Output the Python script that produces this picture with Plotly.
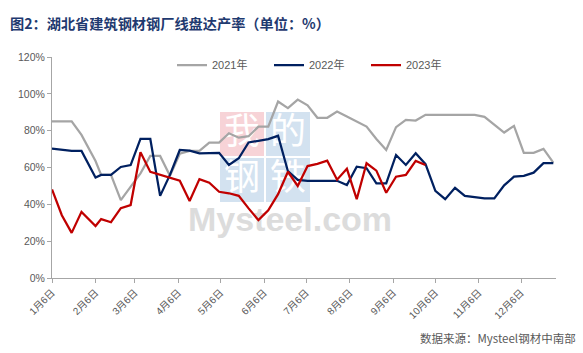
import plotly.graph_objects as go

dates = ["2023-01-06","2023-01-13","2023-01-20","2023-01-27","2023-02-06","2023-02-10","2023-02-17","2023-02-24",
         "2023-03-03","2023-03-10","2023-03-17","2023-03-24","2023-03-31","2023-04-07","2023-04-14","2023-04-21",
         "2023-04-28","2023-05-05","2023-05-12","2023-05-19","2023-05-26","2023-06-02","2023-06-09","2023-06-16",
         "2023-06-23","2023-06-30","2023-07-07","2023-07-14","2023-07-21","2023-07-28","2023-08-04","2023-08-11",
         "2023-08-18","2023-08-25","2023-09-01","2023-09-08","2023-09-15","2023-09-22","2023-09-29","2023-10-06",
         "2023-10-13","2023-10-20","2023-10-27","2023-11-03","2023-11-10","2023-11-17","2023-11-24","2023-12-01",
         "2023-12-08","2023-12-15","2023-12-22","2023-12-29"]

y2021 = [85, 85, 85, 77.7, 63.5, 56, 56, 42.3, 49.5, 56.8, 66.3, 66.3, 55.5, 67.5, 69, 69, 73.5, 73.5, 78.6, 76.2,
         77, 82.2, 82.2, 95.8, 92.2, 96.9, 93.8, 87, 87, 90.4, 87.7, 85, 82.2, 75.5, 69.5, 81.9, 85.9, 85.5, 88.6,
         88.6, 88.6, 88.6, 88.6, 88.6, 87.5, 83.4, 79, 82.6, 68, 68, 70.1, 62.6]
y2022 = [70.2, 69.6, 69, 69, 54.5, 56, 56, 60.3, 61.3, 75.5, 75.5, 44.6, 56, 69.5, 69.2, 67.7, 67.7, 68, 61.4, 65,
         73.6, 74.5, 75.4, 77.2, 58, 53.3, 52.8, 52.8, 52.8, 52.8, 50.5, 60.4, 59.6, 51.4, 51.4, 66.8, 61.4, 67.7,
         61.8, 47.3, 42.8, 49, 44.6, 44.1, 43.2, 43.2, 50.3, 55, 55.5, 57.2, 62.4, 62.4]
y2023 = [48.1, 34.1, 24.5, 35.9, 28.2, 32, 30.3, 37.9, 39.6, 68.3, 57.6, 55.9, 54.4, 52.8, 41.8, 53.7, 51.7, 46.8,
         46, 44.6, 37.8, 31.4, 36.7, 45.5, 57.7, 50, 60.8, 62, 63.7, 53.4, 59.3, 42.8, 62.3, 58.3, 46.3, 55, 56,
         63.6, 61.4]

series_names = ["2021年", "2022年", "2023年"]
series_colors = ["#A5A5A5", "#002060", "#C00000"]

tick_dates = ["2023-01-06","2023-02-06","2023-03-06","2023-04-06","2023-05-06","2023-06-06",
              "2023-07-06","2023-08-06","2023-09-06","2023-10-06","2023-11-06","2023-12-06"]
tick_labels = ["1月6日","2月6日","3月6日","4月6日","5月6日","6月6日",
               "7月6日","8月6日","9月6日","10月6日","11月6日","12月6日"]

title_text = "图2：湖北省建筑钢材钢厂线盘达产率（单位：%）"
source_text = "数据来源：Mysteel钢材中南部"

fig = go.Figure()
for name, vals, col in zip(series_names, [y2021, y2022, y2023], series_colors):
    fig.add_trace(go.Scatter(x=dates[:len(vals)], y=vals, mode="lines", name=name,
                             line=dict(color=col, width=2.25)))

W, H = 583, 353
ml, mr, mt, mb = 52, 27, 57, 75
pw, ph = W - ml - mr, H - mt - mb

def px2x(px):
    return (px - ml) / pw

def py2y(py):
    return (H - mb - py) / ph

# watermark logo (behind the lines)
boxes = [("我", 220, 112, "rgba(236,150,160,0.42)"), ("的", 266, 112, "rgba(150,185,220,0.42)"),
         ("钢", 220, 158, "rgba(150,185,220,0.42)"), ("铁", 266, 158, "rgba(150,185,220,0.42)")]
for ch, bx, by, colr in boxes:
    fig.add_shape(type="rect", xref="paper", yref="paper", layer="below",
                  x0=px2x(bx), x1=px2x(bx + 44), y0=py2y(by + 44), y1=py2y(by),
                  fillcolor=colr, line=dict(width=0),
                  label=dict(text=ch, font=dict(family="Noto Sans CJK SC", size=36, color="white"),
                             textposition="middle center"))
fig.add_shape(type="rect", xref="paper", yref="paper", layer="below",
              x0=px2x(187), x1=px2x(393), y0=py2y(240), y1=py2y(192),
              fillcolor="rgba(0,0,0,0)", line=dict(width=0),
              label=dict(text="Mysteel.com", font=dict(family="Liberation Sans", size=34, color="#DCDCDC", weight="bold"),
                         textposition="middle center"))

axis_col = "#A6A6A6"
fig.update_layout(
    width=W, height=H,
    margin=dict(l=ml, r=mr, t=mt, b=mb),
    paper_bgcolor="white", plot_bgcolor="white",
    showlegend=True,
    legend=dict(orientation="h", x=px2x(172), xanchor="left", y=py2y(65), yanchor="middle",
                font=dict(family="Liberation Sans, Noto Sans CJK SC", size=11, color="#595959"),
                bgcolor="rgba(0,0,0,0)", entrywidth=52, entrywidthmode="pixels",
                tracegroupgap=0, itemwidth=30),
    title=dict(text=title_text, x=10 / W, xanchor="left", xref="container",
               y=1 - 24 / H, yanchor="middle", yref="container",
               font=dict(family="Noto Sans CJK SC", size=14.2, color="#1F3A70", weight="bold")),
    xaxis=dict(type="date", range=["2023-01-06", "2023-12-30 22:00"],
               tickvals=tick_dates, ticktext=tick_labels, tickangle=-45,
               showgrid=False, zeroline=False, showline=True, linecolor=axis_col, linewidth=1,
               ticks="outside", ticklen=4, tickcolor=axis_col,
               tickfont=dict(family="Liberation Sans, Noto Sans CJK SC", size=10, color="#595959")),
    yaxis=dict(range=[0, 120], dtick=20, ticksuffix="%",
               showgrid=False, zeroline=False, showline=True, linecolor=axis_col, linewidth=1,
               ticks="outside", ticklen=4, tickcolor=axis_col,
               tickfont=dict(family="Liberation Sans", size=10.5, color="#595959")),
    annotations=[dict(text=source_text, xref="paper", yref="paper", x=px2x(578), xanchor="right",
                      y=py2y(338), yanchor="middle", showarrow=False,
                      font=dict(family="Noto Sans CJK SC", size=11.5, color="#595959"))],
)

fig.write_html("out.html")
